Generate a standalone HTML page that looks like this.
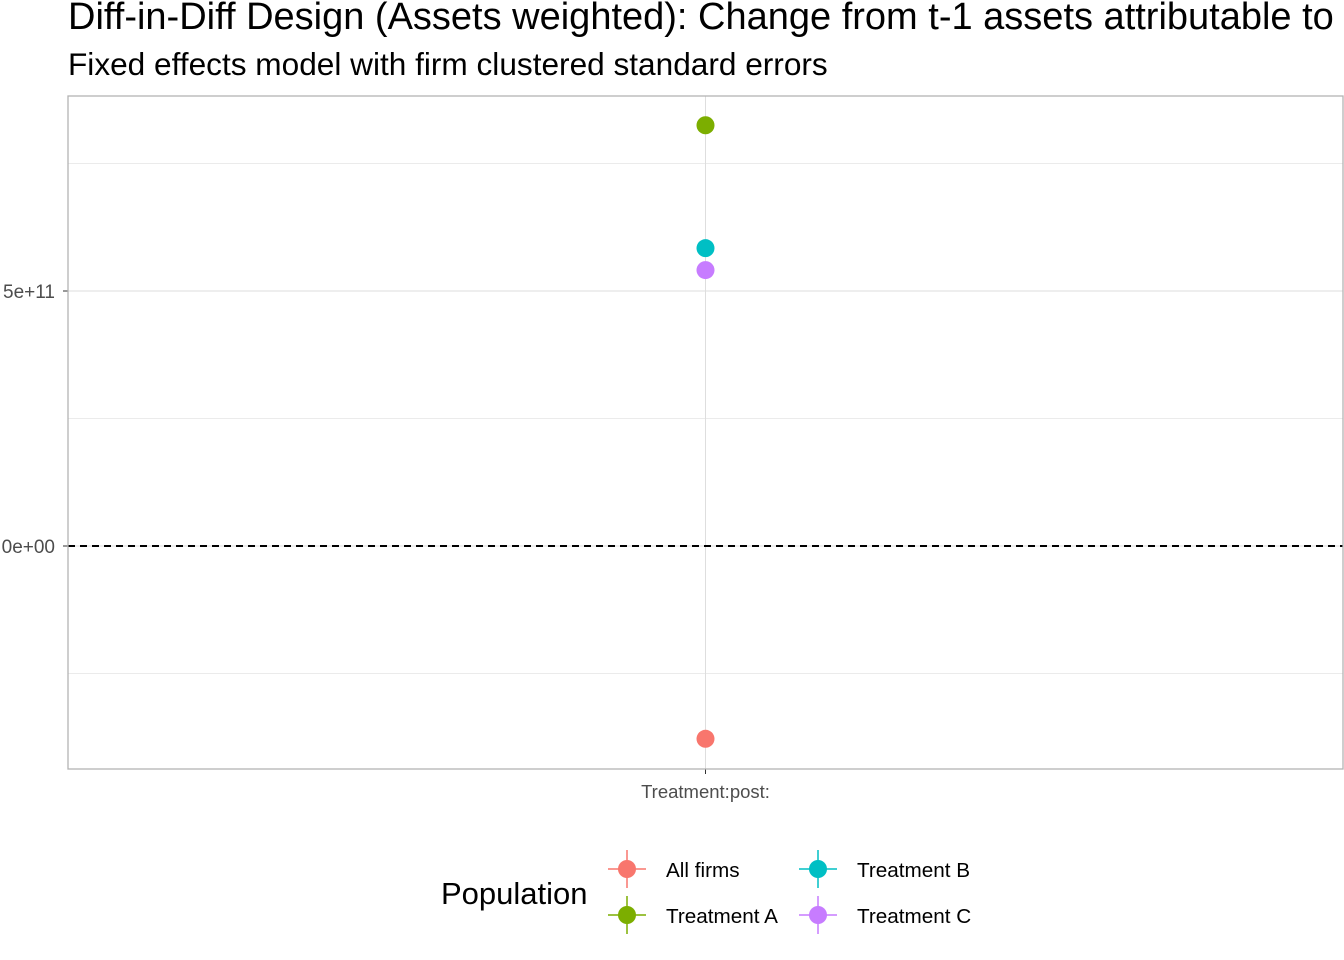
<!DOCTYPE html>
<html><head><meta charset="utf-8"><style>
body{margin:0;background:#fff;font-family:"Liberation Sans",Arial,sans-serif}
svg{display:block}
</style></head><body>
<svg width="1344" height="960" xmlns="http://www.w3.org/2000/svg" font-family="Liberation Sans, Arial, sans-serif">
<text x="68" y="29" font-size="38" fill="#000">Diff-in-Diff Design (Assets weighted): Change from t-1 assets attributable to</text>
<text x="68" y="75" font-size="31.6" fill="#000">Fixed effects model with firm clustered standard errors</text>
<g id="panel"></g>
<g id="legend"></g>
</svg>
<script>
const categories=["Treatment:post:"];
const groups=["All firms","Treatment A","Treatment B","Treatment C"];
const colors=["#F8766D","#7CAE00","#00BFC4","#C77CFF"];
const estimates=[-3.78e11,8.25e11,5.84e11,5.41e11];
const yTicks=[0,5e11];
const yTickLabels=["0e+00","5e+11"];
const yMinor=[-2.5e11,2.5e11,7.5e11];
const NS="http://www.w3.org/2000/svg";
const L=68,R=1343,T=96,B=769;
function y(v){return 546-v/5e11*255;}
function x(i){return L+(R-L)*(i+0.5)/categories.length;}
function mk(tag,attrs,parent){const e=document.createElementNS(NS,tag);for(const k in attrs)e.setAttribute(k,attrs[k]);parent.appendChild(e);return e;}
const p=document.getElementById('panel');
yMinor.forEach(v=>{const l=mk('line',{x1:L,x2:R,y1:y(v),y2:y(v),stroke:'#ebebeb','stroke-width':1},p);

});
yTicks.forEach((v,i)=>{const l=mk('line',{x1:L,x2:R,y1:y(v),y2:y(v),stroke:'#dedede','stroke-width':1},p);


mk('line',{x1:63,x2:L,y1:y(v),y2:y(v),stroke:'#333'},p);
const t=mk('text',{x:55,y:y(v)+7,'text-anchor':'end','font-size':19,fill:'#4d4d4d'},p);t.textContent=yTickLabels[i];

});
categories.forEach((c,i)=>{const l=mk('line',{x1:x(i),x2:x(i),y1:T,y2:B,stroke:'#dedede'},p);


mk('line',{x1:x(i),x2:x(i),y1:B,y2:B+5,stroke:'#333'},p);
const t=mk('text',{x:x(i),y:798,'text-anchor':'middle','font-size':18.5,fill:'#4d4d4d'},p);t.textContent=c;

});
const z=mk('line',{x1:L,x2:R,y1:y(0),y2:y(0),stroke:'#000','stroke-width':2,'stroke-dasharray':'7,5'},p);


estimates.forEach((v,i)=>{const c=mk('circle',{cx:x(0),cy:y(v),r:9,fill:colors[i]},p);

});
mk('rect',{x:L,y:T,width:R-L,height:B-T,fill:'none',stroke:'#b3b3b3','stroke-width':1.3},p);
const lg=document.getElementById('legend');
const lt=mk('text',{x:441,y:904,'font-size':31,fill:'#000'},lg);lt.textContent="Population";


const pos=[[627,869],[627,915],[818,869],[818,915]];
groups.forEach((g,i)=>{const [kx,ky]=pos[i];
const gg=mk('g',{},lg);


mk('line',{x1:kx-19,x2:kx+19,y1:ky,y2:ky,stroke:colors[i],'stroke-width':1.5},gg);
mk('line',{x1:kx,x2:kx,y1:ky-19,y2:ky+19,stroke:colors[i],'stroke-width':1.5},gg);
mk('circle',{cx:kx,cy:ky,r:9,fill:colors[i]},gg);
const t=mk('text',{x:kx+39,y:ky+8,'font-size':20.7,fill:'#000'},gg);t.textContent=g;});
</script>
</body></html>
